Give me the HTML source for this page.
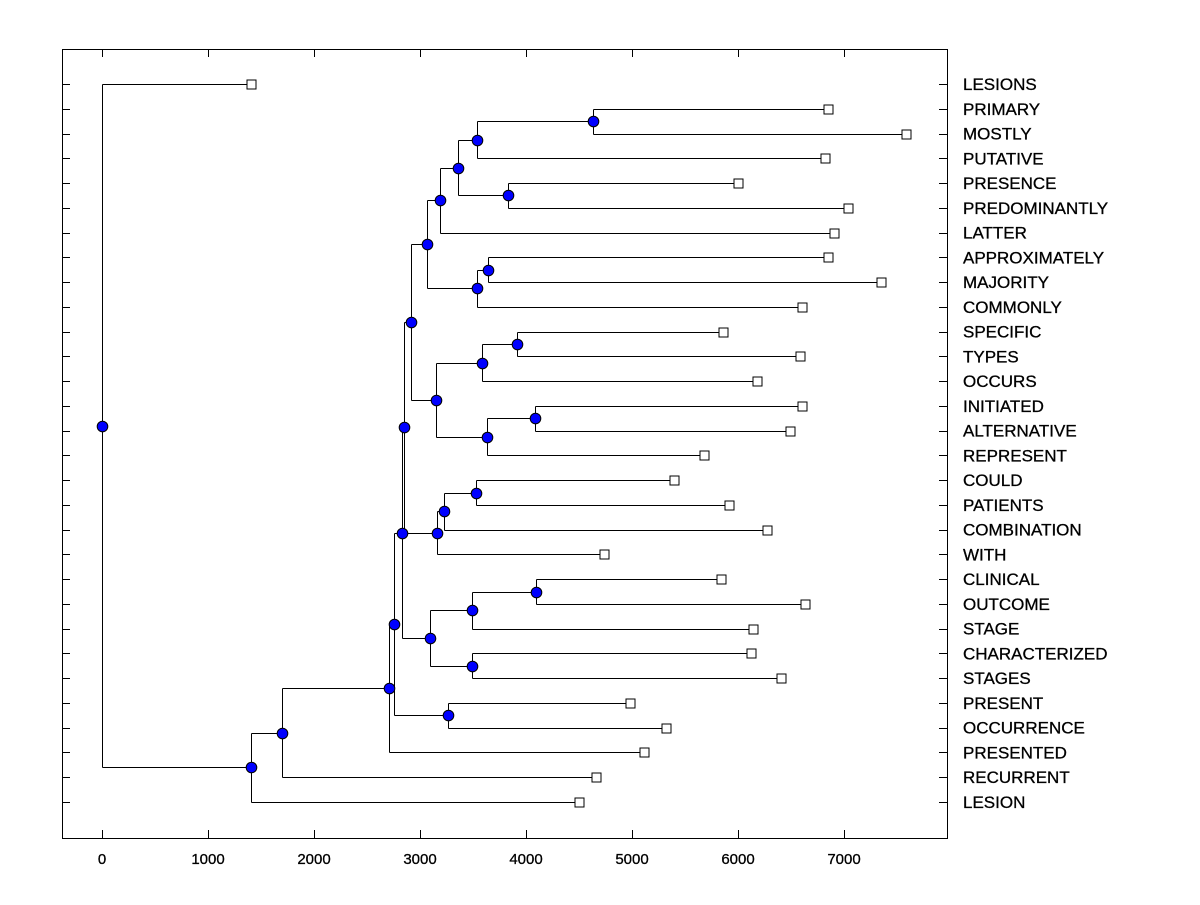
<!DOCTYPE html>
<html><head><meta charset="utf-8"><style>
body{margin:0;background:#fff}
svg text{font-family:"Liberation Sans",Arial,sans-serif;fill:#000}
</style></head><body>
<svg id="s" width="1200" height="900" viewBox="0 0 1200 900" xmlns="http://www.w3.org/2000/svg">
<rect x="62.5" y="49.5" width="885" height="789" fill="none" stroke="#000" stroke-width="1"/>
<g font-size="17" id="labels" stroke="#000" stroke-width="0.3">
<text x="963" y="90">LESIONS</text>
<text x="963" y="114.8">PRIMARY</text>
<text x="963" y="139.5">MOSTLY</text>
<text x="963" y="164.3">PUTATIVE</text>
<text x="963" y="189">PRESENCE</text>
<text x="963" y="213.8">PREDOMINANTLY</text>
<text x="963" y="238.6">LATTER</text>
<text x="963" y="263.3">APPROXIMATELY</text>
<text x="963" y="288.1">MAJORITY</text>
<text x="963" y="312.8">COMMONLY</text>
<text x="963" y="337.6">SPECIFIC</text>
<text x="963" y="362.3">TYPES</text>
<text x="963" y="387.1">OCCURS</text>
<text x="963" y="411.9">INITIATED</text>
<text x="963" y="436.6">ALTERNATIVE</text>
<text x="963" y="461.4">REPRESENT</text>
<text x="963" y="486.1">COULD</text>
<text x="963" y="510.9">PATIENTS</text>
<text x="963" y="535.7">COMBINATION</text>
<text x="963" y="560.4">WITH</text>
<text x="963" y="585.2">CLINICAL</text>
<text x="963" y="609.9">OUTCOME</text>
<text x="963" y="634.7">STAGE</text>
<text x="963" y="659.5">CHARACTERIZED</text>
<text x="963" y="684.2">STAGES</text>
<text x="963" y="709">PRESENT</text>
<text x="963" y="733.7">OCCURRENCE</text>
<text x="963" y="758.5">PRESENTED</text>
<text x="963" y="783.2">RECURRENT</text>
<text x="963" y="808">LESION</text>
</g>
<g font-size="15" text-anchor="middle" stroke="#000" stroke-width="0.3">
<text x="102" y="864">0</text>
<text x="208" y="864">1000</text>
<text x="314" y="864">2000</text>
<text x="420" y="864">3000</text>
<text x="526" y="864">4000</text>
<text x="632" y="864">5000</text>
<text x="738" y="864">6000</text>
<text x="844" y="864">7000</text>
</g>
<g id="g"></g>
</svg>
<script>
var NS="http://www.w3.org/2000/svg",G=document.getElementById("g");
function el(t,a){var e=document.createElementNS(NS,t);for(var k in a)e.setAttribute(k,a[k]);G.appendChild(e);return e;}
function line(x1,y1,x2,y2){el("line",{x1:x1,y1:y1,x2:x2,y2:y2,stroke:"#000","stroke-width":1});}
function Y(i){return 84+i*24.759;}
for(var i=0;i<30;i++){var y=Math.round(Y(i))+0.5;line(62,y,70,y);line(939,y,947,y);}
for(var k=0;k<8;k++){var x=102+106*k+0.5;line(x,49,x,57);line(x,830,x,838);}
var ends=[251,828,906,825,738,848,834,828,881,802,723,800,757,802,790,704,674,729,767,604,721,805,753,751,781,630,666,644,596,579];
function L(i){return {leaf:true,x:ends[i],y:Y(i)};}
function N(x,a,b){return {x:x,c:[a,b],y:(a.y+b.y)/2};}
var A1=N(593,L(1),L(2)),A2=N(477,A1,L(3)),B1=N(508,L(4),L(5)),A3=N(458,A2,B1),A4=N(440,A3,L(6));
var C1=N(488,L(7),L(8)),C2=N(477,C1,L(9)),A5=N(427,A4,C2);
var D1=N(517,L(10),L(11)),D2=N(482,D1,L(12)),E1=N(535,L(13),L(14)),E2=N(487,E1,L(15)),F1=N(436,D2,E2),Gn=N(411,A5,F1);
var H1=N(476,L(16),L(17)),H2=N(444,H1,L(18)),H3=N(437,H2,L(19)),Ln=N(404,Gn,H3);
var I1=N(536,L(20),L(21)),I2=N(472,I1,L(22)),J1=N(472,L(23),L(24)),I3=N(430,I2,J1),K=N(402,Ln,I3);
var Nn=N(448,L(25),L(26)),M=N(394,K,Nn),O=N(389,M,L(27)),P=N(282,O,L(28)),Q=N(251,P,L(29)),R=N(102,L(0),Q);
var nodes=[];
function draw(n){if(n.leaf)return;var a=n.c[0],b=n.c[1],x=n.x+0.5;
line(x,Math.round(a.y)+0.5,x,Math.round(b.y)+0.5);
[a,b].forEach(function(c){line(x,Math.round(c.y)+0.5,c.x+0.5,Math.round(c.y)+0.5);});
draw(a);draw(b);nodes.push(n);
[a,b].forEach(function(c){if(c.leaf)el("rect",{x:c.x-4,y:Math.round(c.y)-4,width:9,height:9,fill:"#fff",stroke:"#000","stroke-width":1});});}
draw(R);
nodes.forEach(function(n){el("circle",{cx:n.x+0.5,cy:Math.round(n.y)+0.5,r:5.3,fill:"#0000ff",stroke:"#000","stroke-width":1});});
</script>
</body></html>
